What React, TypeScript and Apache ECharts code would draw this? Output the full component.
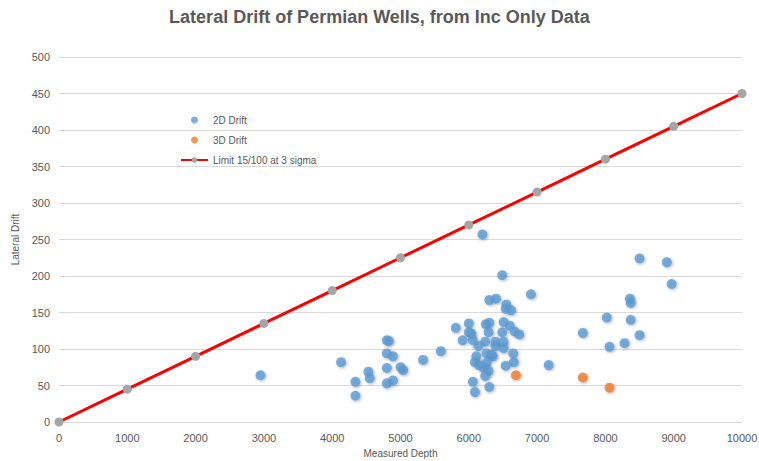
import React, { useEffect, useRef } from "react";
import * as echarts from "echarts";

const drift2dX = [2950, 4130, 4800, 4830, 4800, 4890, 4530, 4550, 4340, 4340, 4800, 5000, 5040, 4800, 4890, 5330, 5590, 6200, 6490, 6910, 6300, 6400, 6550, 6540, 6620, 5810, 6000, 6000, 6040, 6250, 6300, 6290, 6510, 6600, 6490, 6670, 6740, 5910, 6060, 6240, 6140, 6390, 6390, 6510, 6510, 6110, 6090, 6150, 6260, 6330, 6350, 6260, 6220, 6290, 6240, 6650, 6660, 6540, 6060, 6090, 6300, 7170, 7670, 8500, 8900, 8970, 8360, 8370, 8020, 8370, 8500, 8060, 8280];
const drift2dY = [64, 82, 112, 111, 94, 90, 69, 60, 55, 36, 74, 75, 71, 53, 57, 85, 97, 257, 201, 175, 167, 169, 161, 155, 153, 129, 135, 123, 121, 134, 136, 123, 137, 132, 123, 124, 120, 112, 112, 110, 104, 110, 104, 110, 101, 90, 82, 78, 94, 92, 90, 81, 74, 70, 63, 94, 82, 77, 55, 41, 48, 78, 122, 224, 219, 189, 169, 163, 143, 140, 119, 103, 108];
const drift3dX = [6690, 7670, 8060];
const drift3dY = [64, 61, 47];
const limitX = [0, 1000, 2000, 3000, 4000, 5000, 6000, 7000, 8000, 9000, 10000];
const limitY = [0, 45, 90, 135, 180, 225, 270, 315, 360, 405, 450];

const TXT = "#595959";
const FONT = "Liberation Sans";

export default function App() {
  const ref = useRef<HTMLDivElement>(null);
  useEffect(() => {
    if (!ref.current) return;
    const chart = echarts.init(ref.current, null, { renderer: "svg" });
    const shadow = { shadowColor: "rgba(0,0,0,0.35)", shadowBlur: 3, shadowOffsetX: 1, shadowOffsetY: 1 };
    chart.setOption({
      animation: false,
      backgroundColor: "#ffffff",
      title: {
        text: "Lateral Drift of Permian Wells, from Inc Only Data",
        left: "center",
        top: 3,
        textStyle: { color: TXT, fontSize: 18, fontWeight: "bold", fontFamily: FONT },
      },
      grid: { left: 59, right: 17, top: 57, bottom: 39, containLabel: false, outerBoundsMode: "none" },
      legend: {
        orient: "vertical",
        left: 175,
        top: 110,
        itemGap: 10,
        itemWidth: 27,
        itemHeight: 7,
        textStyle: { color: TXT, fontSize: 10, fontFamily: FONT },
        data: [
          { name: "2D Drift", icon: "circle" },
          { name: "3D Drift", icon: "circle" },
          { name: "Limit 15/100 at 3 sigma" },
        ],
      },
      xAxis: {
        type: "value",
        min: 0,
        max: 10000,
        interval: 1000,
        name: "Measured Depth",
        nameLocation: "middle",
        nameGap: 26,
        nameTextStyle: { color: TXT, fontSize: 10, fontFamily: FONT },
        axisLine: { show: true, lineStyle: { color: "#D9D9D9" } },
        axisTick: { show: false },
        axisLabel: { color: TXT, fontSize: 11, fontFamily: FONT, margin: 10, formatter: (v: number) => String(v) },
        splitLine: { show: false },
      },
      yAxis: {
        type: "value",
        min: 0,
        max: 500,
        interval: 50,
        name: "Lateral Drift",
        nameLocation: "middle",
        nameGap: 33,
        nameTextStyle: { color: TXT, fontSize: 10, fontFamily: FONT },
        axisLine: { show: false },
        axisTick: { show: false },
        axisLabel: { color: TXT, fontSize: 11, fontFamily: FONT, margin: 9 },
        splitLine: { show: true, lineStyle: { color: "#D9D9D9" } },
      },
      series: [
        {
          name: "Limit 15/100 at 3 sigma",
          type: "line",
          data: limitX.map((x, i) => [x, limitY[i]]),
          symbol: "circle",
          symbolSize: 9,
          lineStyle: { color: "#FF0000", width: 3 },
          itemStyle: { color: "#A5A5A5" },
          z: 3,
        },
        {
          name: "2D Drift",
          type: "scatter",
          data: drift2dX.map((x, i) => [x, drift2dY[i]]),
          symbolSize: 10,
          itemStyle: { color: "#5B9BD5", ...shadow },
          z: 2,
        },
        {
          name: "3D Drift",
          type: "scatter",
          data: drift3dX.map((x, i) => [x, drift3dY[i]]),
          symbolSize: 10,
          itemStyle: { color: "#ED7D31", ...shadow },
          z: 2,
        },
      ],
    });
    return () => chart.dispose();
  }, []);
  return <div ref={ref} style={{ width: 759, height: 461, position: "absolute", left: 0, top: 0 }} />;
}
